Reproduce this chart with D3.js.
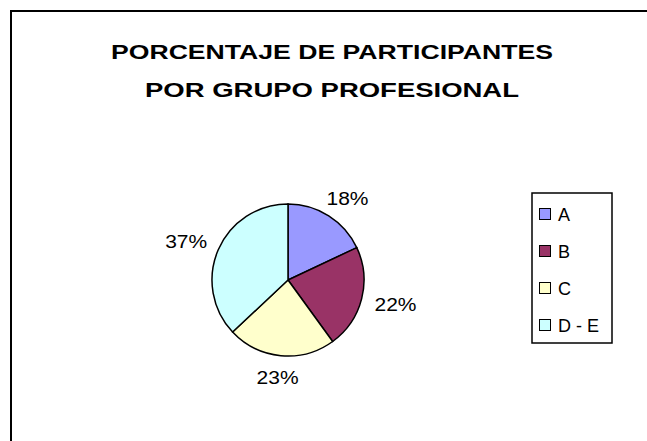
<!DOCTYPE html>
<html>
<head>
<meta charset="utf-8">
<script src="https://cdn.jsdelivr.net/npm/d3@7"></script>
<style>
  body { margin: 0; background: #ffffff; }
  text { font-family: "Liberation Sans", Arial, sans-serif; fill: #000; }
</style>
</head>
<body>
<div id="chart"></div>
<script>
// data
var groups = ['A', 'B', 'C', 'D - E'];
var shares = [18, 22, 23, 37];
var colors = ['#9999ff', '#993366', '#ffffcc', '#ccffff'];
var titleLines = ['PORCENTAJE DE PARTICIPANTES', 'POR GRUPO PROFESIONAL'];

(function() {
  var width = 647,
      height = 441;

  var svg = d3.select("#chart")
        .append("svg")
        .attr("width", width)
        .attr("height", height);

  // outer frame (right + bottom sides run off the picture)
  svg.append("rect")
    .attr("x", 11)
    .attr("y", 11)
    .attr("width", 700)
    .attr("height", 500)
    .attr("fill", "none")
    .attr("stroke", "#000")
    .attr("stroke-width", 2);

  // title
  var titleWidths = [442, 374];
  svg.selectAll(".title")
    .data(titleLines)
    .enter().append("text")
    .attr("class", "title")
    .attr("x", 332)
    .attr("y", function(d, i) { return 59 + i * 38; })
    .attr("text-anchor", "middle")
    .attr("textLength", function(d, i) { return titleWidths[i]; })
    .attr("lengthAdjust", "spacingAndGlyphs")
    .style("font-size", "21px")
    .style("font-weight", "bold")
    .text(function(d) { return d; });

  var data = groups.map(function(g, i) {
    return { group: g, value: shares[i], color: colors[i] };
  });

  var cx = 288, cy = 280, radius = 76;

  var pie = d3.pie()
    .sort(null)
    .value(function(d) { return d.value; });

  var arc = d3.arc()
    .innerRadius(0)
    .outerRadius(radius);

  var g = svg.append("g")
    .attr("transform", "translate(" + cx + "," + cy + ")");

  var arcs = pie(data);

  g.selectAll(".slice")
    .data(arcs)
    .enter().append("path")
    .attr("class", "slice")
    .attr("d", arc)
    .attr("fill", function(d) { return d.data.color; })
    .attr("stroke", "#000")
    .attr("stroke-width", 1.5);

  // labels sit outside the rim, box pushed away from the pie
  var labelR = radius + 14;
  function labelPos(d) {
    var a = (d.startAngle + d.endAngle) / 2,
        s = Math.sin(a), c = Math.cos(a);
    return [labelR * s + 21 * s, -labelR * c - 7 * c + 7];
  }

  g.selectAll(".pct")
    .data(arcs)
    .enter().append("text")
    .attr("class", "pct")
    .attr("x", function(d) { return labelPos(d)[0]; })
    .attr("y", function(d) { return labelPos(d)[1]; })
    .attr("text-anchor", "middle")
    .attr("textLength", 42)
    .attr("lengthAdjust", "spacingAndGlyphs")
    .style("font-size", "18px")
    .text(function(d) { return d.data.value + "%"; });

  // legend
  var legend = svg.append("g")
    .attr("transform", "translate(532,193)");

  legend.append("rect")
    .attr("width", 80)
    .attr("height", 150)
    .attr("fill", "#fff")
    .attr("stroke", "#000")
    .attr("stroke-width", 1.5);

  var legendY = d3.scalePoint()
    .domain(groups)
    .range([21, 132]);

  var items = legend.selectAll(".item")
    .data(data)
    .enter().append("g")
    .attr("class", "item")
    .attr("transform", function(d) { return "translate(0," + legendY(d.group) + ")"; });

  items.append("rect")
    .attr("x", 7.5)
    .attr("y", -5.5)
    .attr("width", 11)
    .attr("height", 11)
    .attr("fill", function(d) { return d.color; })
    .attr("stroke", "#000")
    .attr("stroke-width", 1);

  items.append("text")
    .attr("x", 26)
    .attr("y", 6.5)
    .style("font-size", "18px")
    .text(function(d) { return d.group; });
})();
</script>
</body>
</html>
